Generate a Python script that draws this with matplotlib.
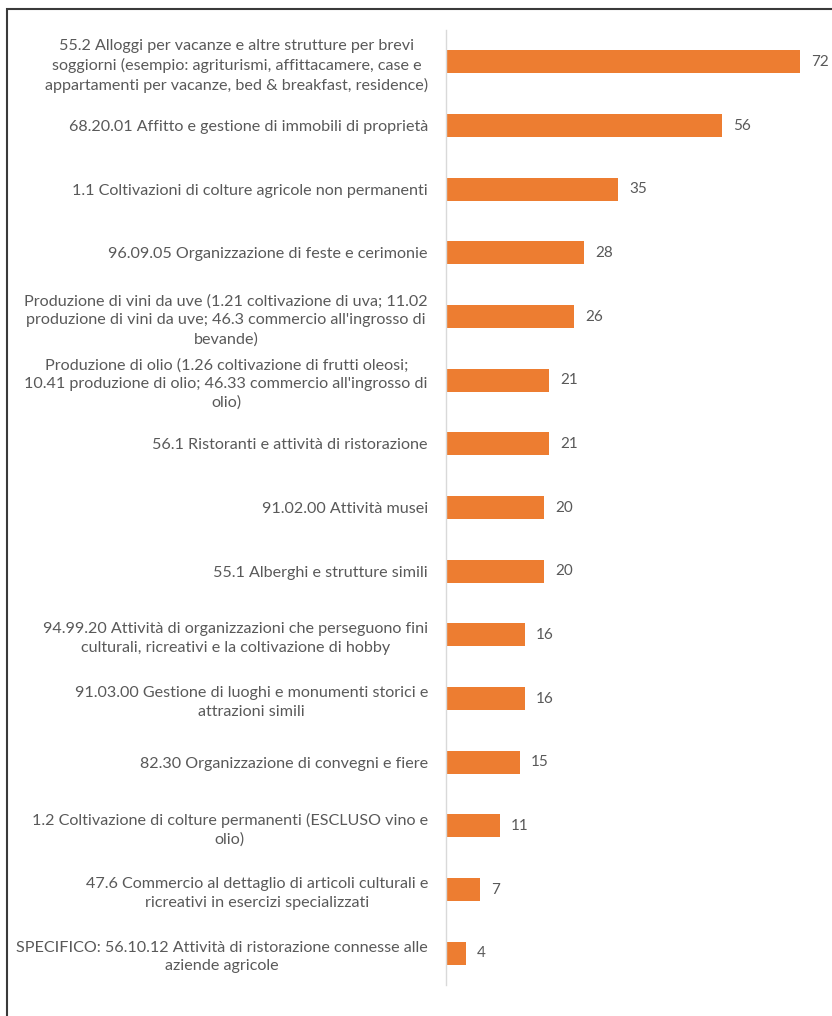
import matplotlib.pyplot as plt
from matplotlib.patches import Rectangle

categories = [
    "55.2 Alloggi per vacanze e altre strutture per brevi\nsoggiorni (esempio: agriturismi, affittacamere, case e\nappartamenti per vacanze, bed & breakfast, residence)",
    "68.20.01 Affitto e gestione di immobili di proprietà",
    "1.1 Coltivazioni di colture agricole non permanenti",
    "96.09.05 Organizzazione di feste e cerimonie",
    "Produzione di vini da uve (1.21 coltivazione di uva; 11.02\nproduzione di vini da uve; 46.3 commercio all'ingrosso di\nbevande)",
    "Produzione di olio (1.26 coltivazione di frutti oleosi;\n10.41 produzione di olio; 46.33 commercio all'ingrosso di\nolio)",
    "56.1 Ristoranti e attività di ristorazione",
    "91.02.00 Attività musei",
    "55.1 Alberghi e strutture simili",
    "94.99.20 Attività di organizzazioni che perseguono fini\nculturali, ricreativi e la coltivazione di hobby",
    "91.03.00 Gestione di luoghi e monumenti storici e\nattrazioni simili",
    "82.30 Organizzazione di convegni e fiere",
    "1.2 Coltivazione di colture permanenti (ESCLUSO vino e\nolio)",
    "47.6 Commercio al dettaglio di articoli culturali e\nricreativi in esercizi specializzati",
    "SPECIFICO: 56.10.12 Attività di ristorazione connesse alle\naziende agricole",
]
values = [72, 56, 35, 28, 26, 21, 21, 20, 20, 16, 16, 15, 11, 7, 4]

bar_color = "#ED7D31"
text_color = "#595959"

plt.rcParams['font.family'] = ['Lato', 'DejaVu Sans']

fig = plt.figure(figsize=(8.32, 10.16), dpi=100)
ax = fig.add_axes([446 / 832, 1 - 985 / 1016, 386 / 832, 955 / 1016])

pos = list(range(len(categories)))
bars = ax.barh(pos, values, height=0.36, color=bar_color)
ax.bar_label(bars, labels=[str(v) for v in values], padding=8,
             fontsize=11, color=text_color)

ax.set_ylim(len(categories) - 0.5, -0.5)
ax.set_xlim(0, 386 / 4.92)
ax.set_yticks(pos)
ax.set_yticklabels(categories, fontsize=11.6, color=text_color,
                   multialignment='center', linespacing=1.42)
ax.tick_params(axis='y', length=0, pad=13)
ax.set_xticks([])

for side in ['top', 'right', 'bottom']:
    ax.spines[side].set_visible(False)
ax.spines['left'].set_color("#d9d9d9")
ax.spines['left'].set_linewidth(1.0)

# outer frame, open towards the right and bottom edges
fig.patches.append(Rectangle((7.5 / 832, -0.1), 1.2, 1 - 8.5 / 1016 + 0.1,
                             transform=fig.transFigure, fill=False,
                             edgecolor="#3a3a3a", linewidth=1.5))

fig.savefig("out.png", dpi=100)
